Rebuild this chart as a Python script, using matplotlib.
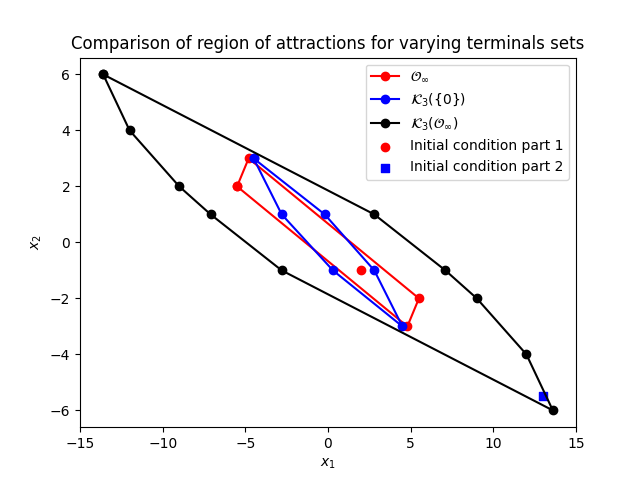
import matplotlib
matplotlib.use("Agg")
import matplotlib.pyplot as plt

# region vertices (closed polygons)
o_inf_x = [-5.5, -4.8, 5.5, 4.8, -5.5]
o_inf_y = [2.0, 3.0, -2.0, -3.0, 2.0]

k0_x = [-4.5, -2.8, 0.3, 4.5, 2.8, -0.2, -4.5]
k0_y = [3.0, 1.0, -1.0, -3.0, -1.0, 1.0, 3.0]

ko_x = [-13.6, 2.8, 7.1, 9.0, 12.0, 13.6, -2.8, -7.1, -9.0, -12.0, -13.6]
ko_y = [6.0, 1.0, -1.0, -2.0, -4.0, -6.0, -1.0, 1.0, 2.0, 4.0, 6.0]

init1 = (2.0, -1.0)
init2 = (13.0, -5.5)

fig, ax = plt.subplots(figsize=(6.4, 4.8), dpi=100)
ax.plot(o_inf_x, o_inf_y, 'o-', color='red', label=r'$\mathcal{O}_\infty$')
ax.plot(k0_x, k0_y, 'o-', color='blue', label=r'$\mathcal{K}_3(\{0\})$')
ax.plot(ko_x, ko_y, 'o-', color='black', label=r'$\mathcal{K}_3(\mathcal{O}_\infty)$')
ax.scatter([init1[0]], [init1[1]], color='red', marker='o', label='Initial condition part 1')
ax.scatter([init2[0]], [init2[1]], color='blue', marker='s', label='Initial condition part 2')
ax.set_xlim(-15, 15)
ax.set_xlabel(r'$x_1$')
ax.set_ylabel(r'$x_2$')
ax.set_title('Comparison of region of attractions for varying terminals sets')
ax.legend(loc='upper right')
fig.savefig('out.png')
